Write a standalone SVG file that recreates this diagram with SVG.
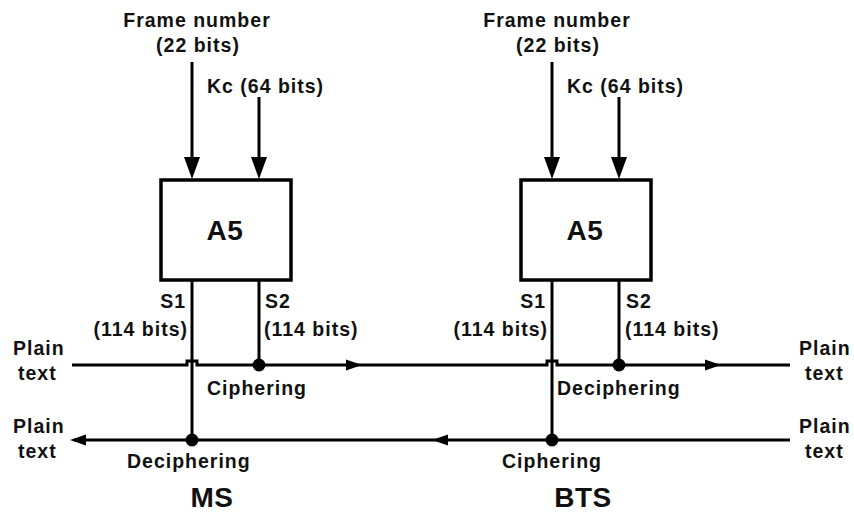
<svg xmlns="http://www.w3.org/2000/svg" width="854" height="516" viewBox="0 0 854 516">
<style>
.t{font-family:"Liberation Sans",Arial,sans-serif;font-weight:bold;font-size:19.5px;letter-spacing:1px;fill:#111}
.big{font-size:28px;letter-spacing:0.5px}
.ln{stroke:#000;stroke-width:3;fill:none}
.box{stroke:#000;stroke-width:3.5;fill:#fff}
.dot{fill:#000}
</style>
<defs>
<path id="ahR" d="M0,0 L-16,-5.5 L-16,5.5 Z" fill="#000"/>
<path id="ahD" d="M0,0 L-8,-22 L8,-22 Z" fill="#000"/>
</defs>
<rect width="854" height="516" fill="#fff"/>
<g id="connectors">
  <line class="ln" x1="192" y1="62" x2="192" y2="165"/>
  <use href="#ahD" x="192" y="179"/>
  <line class="ln" x1="259" y1="97" x2="259" y2="165"/>
  <use href="#ahD" x="259" y="179"/>
  <line class="ln" x1="192" y1="281" x2="192" y2="440"/>
  <line class="ln" x1="259" y1="281" x2="259" y2="365"/>
  <line class="ln" x1="552" y1="62" x2="552" y2="165"/>
  <use href="#ahD" x="552" y="179"/>
  <line class="ln" x1="619" y1="97" x2="619" y2="165"/>
  <use href="#ahD" x="619" y="179"/>
  <line class="ln" x1="552" y1="281" x2="552" y2="440"/>
  <line class="ln" x1="619" y1="281" x2="619" y2="365"/>
  <path class="ln" d="M72,365 H187 V361 H197 V365 H547 V361 H557 V365 H790"/>
  <line class="ln" x1="74" y1="440" x2="790" y2="440"/>
  <use href="#ahR" x="362" y="365"/>
  <use href="#ahR" x="721" y="365"/>
  <use href="#ahR" transform="translate(70,440) rotate(180)"/>
  <use href="#ahR" transform="translate(432,440) rotate(180)"/>
  <circle class="dot" cx="259" cy="365" r="6.5"/>
  <circle class="dot" cx="192" cy="440" r="6.5"/>
  <circle class="dot" cx="619" cy="365" r="6.5"/>
  <circle class="dot" cx="552" cy="440" r="6.5"/>
</g>
<g id="ms-fn"><text class="t" x="197" y="27" text-anchor="middle">Frame number</text><text class="t" x="198" y="52" text-anchor="middle">(22 bits)</text></g>
<g id="ms-kc"><text class="t" x="207" y="93">Kc (64 bits)</text></g>
<g id="ms-a5"><rect class="box" x="161" y="180" width="130" height="100"/><text class="t big" x="225" y="240" text-anchor="middle">A5</text></g>
<g id="ms-s1"><text class="t" x="186" y="308" text-anchor="end">S1</text><text class="t" x="188" y="336" text-anchor="end">(114 bits)</text></g>
<g id="ms-s2"><text class="t" x="265" y="308">S2</text><text class="t" x="264" y="336">(114 bits)</text></g>
<g id="ms-plain1"><text class="t" x="13" y="355">Plain</text><text class="t" x="18" y="380">text</text></g>
<g id="ms-plain2"><text class="t" x="13" y="433">Plain</text><text class="t" x="18" y="458">text</text></g>
<g id="ms-ciph"><text class="t" x="207" y="395">Ciphering</text></g>
<g id="ms-deciph"><text class="t" x="127" y="468">Deciphering</text></g>
<g id="ms-label"><text class="t big" x="212" y="507" text-anchor="middle">MS</text></g>

<g id="bts-fn"><text class="t" x="557" y="27" text-anchor="middle">Frame number</text><text class="t" x="558" y="52" text-anchor="middle">(22 bits)</text></g>
<g id="bts-kc"><text class="t" x="567" y="93">Kc (64 bits)</text></g>
<g id="bts-a5"><rect class="box" x="521" y="180" width="130" height="100"/><text class="t big" x="585" y="240" text-anchor="middle">A5</text></g>
<g id="bts-s1"><text class="t" x="546" y="308" text-anchor="end">S1</text><text class="t" x="548" y="336" text-anchor="end">(114 bits)</text></g>
<g id="bts-s2"><text class="t" x="626" y="308">S2</text><text class="t" x="625" y="336">(114 bits)</text></g>
<g id="bts-plain1"><text class="t" x="799" y="355">Plain</text><text class="t" x="805" y="380">text</text></g>
<g id="bts-plain2"><text class="t" x="799" y="433">Plain</text><text class="t" x="805" y="458">text</text></g>
<g id="bts-deciph"><text class="t" x="557" y="395">Deciphering</text></g>
<g id="bts-ciph"><text class="t" x="502" y="468">Ciphering</text></g>
<g id="bts-label"><text class="t big" x="583" y="507" text-anchor="middle">BTS</text></g>
</svg>
